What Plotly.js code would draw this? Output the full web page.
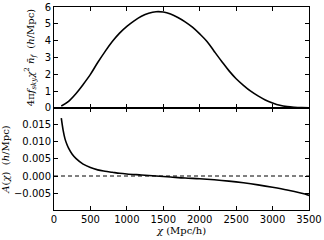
<!DOCTYPE html>
<html><head><meta charset="utf-8">
<script src="https://cdn.plot.ly/plotly-3.0.1.min.js"></script>
<style>html,body{margin:0;padding:0;background:#fff}#chart{width:324px;height:240px}</style>
</head><body><div id="chart"></div>
<script>
var chiTop = [100,200,300,400,500,600,700,800,900,1000,1100,1200,1300,1400,1500,1600,1700,1800,1900,2000,2100,2200,2300,2400,2500,2600,2700,2800,2900,3000,3100,3200,3300,3400,3500];
var density = [0.12,0.4,0.85,1.4,2.0,2.7,3.35,3.95,4.45,4.85,5.18,5.45,5.63,5.72,5.70,5.58,5.38,5.12,4.8,4.4,3.95,3.36,2.78,2.22,1.74,1.35,1.0,0.72,0.48,0.3,0.16,0.08,0.04,0.02,0.01];
var chiBot = [100,125,150,175,200,250,300,400,500,600,700,800,900,1000,1200,1400,1600,1800,2000,2200,2400,2600,2800,3000,3200,3400,3500];
var amp = [0.0170,0.0135,0.0110,0.0094,0.0082,0.0064,0.0052,0.0035,0.0025,0.0018,0.0014,0.0011,0.0008,0.0006,0.0003,0.0000,-0.0003,-0.0006,-0.0008,-0.0011,-0.0015,-0.0020,-0.0026,-0.0033,-0.0041,-0.0051,-0.0057];
var xTicks = [0,500,1000,1500,2000,2500,3000,3500];
var yTopTicks = [0,1,2,3,4,5,6];
var yBotTicks = [-0.005,0,0.005,0.010,0.015];

var ax = {showline:true, linecolor:'#000', linewidth:1, mirror:'ticks', ticks:'inside', ticklen:4, tickcolor:'#000', showgrid:false, zeroline:false, tickfont:{family:'DejaVu Sans', size:10, color:'#000'}};
function A(o){return Object.assign({}, ax, o);}

var data = [
  {x: chiTop, y: density, type:'scatter', mode:'lines', line:{color:'#000', width:1.6, shape:'spline'}, xaxis:'x', yaxis:'y', hoverinfo:'skip'},
  {x: chiBot, y: amp, type:'scatter', mode:'lines', line:{color:'#000', width:1.6, shape:'spline'}, xaxis:'x2', yaxis:'y2', hoverinfo:'skip'}
];
var layout = {
  width:324, height:240, showlegend:false,
  paper_bgcolor:'#fff', plot_bgcolor:'#fff',
  margin:{l:54, r:15, t:7, b:30},
  xaxis: A({domain:[0,1], anchor:'y', range:[0,3500], tickvals:xTicks, showticklabels:false}),
  yaxis: A({domain:[0.5025,1], anchor:'x', range:[0,6], tickvals:yTopTicks,
    title:{text:'4π<i>f</i><sub><i>sky</i></sub><i>χ</i><sup>2</sup> <i>n̄</i><sub><i>f</i></sub>  (<i>h</i>/Mpc)', font:{family:'DejaVu Serif', size:10, color:'#000'}, standoff:8}}),
  xaxis2: A({domain:[0,1], anchor:'y2', range:[0,3500], tickvals:xTicks,
    title:{text:'<i>χ</i> (Mpc/h)', font:{family:'DejaVu Serif', size:10, color:'#000'}, standoff:2}}),
  yaxis2: A({domain:[0,0.5025], anchor:'x2', range:[-0.01,0.02], tickvals:yBotTicks, tickformat:'.3f',
    title:{text:'<i>A</i>(<i>χ</i>)  (<i>h</i>/Mpc)', font:{family:'DejaVu Serif', size:10, color:'#000'}, standoff:4}}),
  shapes:[{type:'line', xref:'x2 domain', x0:0, x1:1, yref:'y2', y0:0, y1:0, line:{color:'#000', width:1, dash:'4px,3px'}}]
};
Plotly.newPlot('chart', data, layout, {staticPlot:true, displayModeBar:false});
</script></body></html>
